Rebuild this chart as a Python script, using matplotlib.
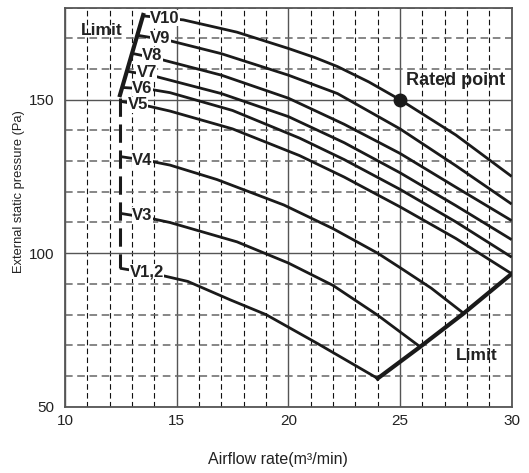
import numpy as np
import matplotlib
matplotlib.use("Agg")
import matplotlib.pyplot as plt
from matplotlib.ticker import MultipleLocator, FixedLocator

plt.rcParams['font.family'] = ['Liberation Sans', 'DejaVu Sans']

# fan curves (airflow m3/min, static pressure Pa)
v10_x = [13.5, 15.3, 17.7, 20.0, 21.2, 22.2, 23.6, 25.0, 27.5, 30.0]
v10_y = [177.3, 176.0, 172.0, 166.7, 163.7, 160.8, 155.8, 150.0, 138.5, 125.0]
v9_x = [13.24, 14.7, 17.0, 20.0, 22.2, 25.0, 27.5, 30.0]
v9_y = [171.0, 169.2, 165.0, 158.0, 152.0, 140.5, 128.5, 116.0]
v8_x = [13.0, 14.25, 17.0, 20.0, 22.5, 25.0, 27.5, 30.0]
v8_y = [165.1, 163.2, 158.0, 150.5, 142.0, 132.5, 121.5, 110.6]
v7_x = [12.77, 14.1, 17.0, 20.0, 22.5, 25.0, 27.5, 30.0]
v7_y = [159.3, 157.5, 152.0, 144.5, 136.0, 126.2, 115.5, 104.4]
v6_x = [12.56, 13.8, 14.7, 17.5, 20.5, 22.5, 25.0, 27.5, 30.0]
v6_y = [154.0, 153.4, 152.3, 146.5, 137.5, 130.5, 120.8, 110.2, 98.7]
v5_x = [12.46, 13.8, 14.7, 17.5, 20.5, 22.5, 25.0, 27.5, 30.0]
v5_y = [149.5, 147.8, 146.3, 140.5, 131.8, 124.8, 115.1, 104.8, 93.3]
v4_x = [12.46, 13.8, 14.7, 16.8, 19.8, 22.0, 24.0, 25.0, 26.4, 27.85]
v4_y = [131.5, 130.0, 128.7, 124.0, 115.7, 108.0, 100.0, 95.3, 88.6, 80.4]
v3_x = [12.46, 13.8, 14.7, 17.7, 20.0, 22.0, 24.0, 25.9]
v3_y = [113.0, 111.4, 110.0, 103.7, 96.8, 89.5, 79.8, 69.5]
v12_x = [12.46, 14.25, 15.5, 17.4, 19.0, 21.3, 24.0]
v12_y = [95.1, 92.9, 90.8, 84.8, 80.0, 70.6, 59.2]

curves = [(v10_x, v10_y), (v9_x, v9_y), (v8_x, v8_y), (v7_x, v7_y), (v6_x, v6_y),
          (v5_x, v5_y), (v4_x, v4_y), (v3_x, v3_y), (v12_x, v12_y)]
names = ['V10', 'V9', 'V8', 'V7', 'V6', 'V5', 'V4', 'V3', 'V1,2']
label_x = [13.8, 13.8, 13.45, 13.2, 13.0, 12.8, 13.0, 13.0, 12.9]
label_y = [176.6, 170.0, 164.5, 159.0, 153.8, 148.3, 130.3, 112.4, 94.0]

# limit lines
lim_left_x = [12.46, 13.5]
lim_left_y = [151.5, 177.6]
lim_dash_x = [12.46, 12.46]
lim_dash_y = [150.5, 95.1]
lim_right_x = [24.0, 25.9, 27.85, 30.0]
lim_right_y = [59.2, 69.5, 80.4, 93.3]

rated_x, rated_y = 25.0, 150.0

fig = plt.figure(figsize=(5.29, 4.73), dpi=100)
ax = fig.add_axes([0.1229, 0.1402, 0.8444, 0.8437])

ax.set_xlim(10, 30)
ax.set_ylim(50, 180)
ax.xaxis.set_major_locator(FixedLocator([10, 15, 20, 25, 30]))
ax.xaxis.set_minor_locator(MultipleLocator(1))
ax.yaxis.set_major_locator(FixedLocator([50, 100, 150]))
ax.yaxis.set_minor_locator(MultipleLocator(10))
ax.tick_params(which='both', length=0, labelsize=11, colors='#222222')
ax.tick_params(axis='x', pad=5)
ax.tick_params(axis='y', pad=8)

ax.grid(which='major', color='#555555', lw=1.0, ls='-')
ax.grid(which='minor', axis='x', color='#111111', lw=0.8, ls=(0, (5, 3)))
ax.grid(which='minor', axis='y', color='#666666', lw=1.1, ls=(0, (5, 3)))
ax.set_axisbelow(True)
for s in ax.spines.values():
    s.set_color('#555555')
    s.set_linewidth(1.3)

for (cx, cy) in curves:
    ax.plot(cx, cy, color='#1a1a1a', lw=2.0, solid_capstyle='butt', zorder=3)

ax.plot(lim_left_x, lim_left_y, color='#1a1a1a', lw=3.0, zorder=3)
ax.plot(lim_dash_x, lim_dash_y, color='#1a1a1a', lw=2.2, dashes=(6, 2.5), zorder=3)
ax.plot(lim_right_x, lim_right_y, color='#1a1a1a', lw=3.0, zorder=3)
ax.plot(rated_x, rated_y, 'o', color='#1a1a1a', ms=9, zorder=4)

for n, lx, ly in zip(names, label_x, label_y):
    ax.text(lx, ly, n, fontsize=12, fontweight='bold', color='#222222',
            ha='left', va='center', zorder=5,
            bbox=dict(boxstyle='square,pad=0.02', fc='white', ec='none'))

ax.text(11.66, 172.7, 'Limit', fontsize=12.5, fontweight='bold', color='#222222',
        ha='center', va='center', zorder=5)
ax.text(28.44, 66.8, 'Limit', fontsize=12.5, fontweight='bold', color='#222222',
        ha='center', va='center', zorder=5)
ax.text(27.5, 156.2, 'Rated point', fontsize=13, fontweight='bold', color='#222222',
        ha='center', va='center', zorder=5)

ax.set_xlabel('Airflow rate(m³/min)', fontsize=11.5, color='#222222', va='top')
ax.xaxis.set_label_coords(0.477, -0.113)
ax.set_ylabel('External static pressure (Pa)', fontsize=9.3, color='#222222')
ax.yaxis.set_label_coords(-0.09, 0.54)

fig.savefig('out.png', dpi=100)
